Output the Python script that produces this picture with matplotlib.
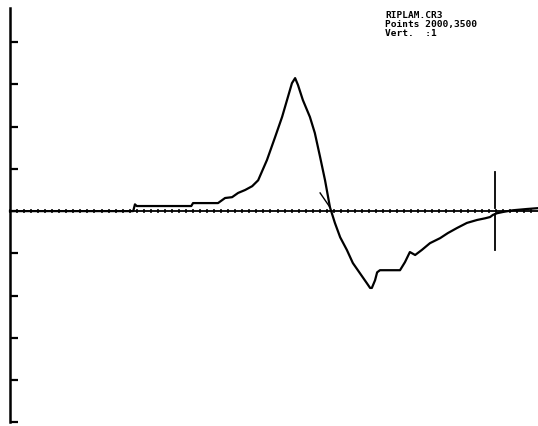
import numpy as np
import matplotlib
matplotlib.use('Agg')
import matplotlib.pyplot as plt

# отсчёты (точки) и амплитуда в делениях шкалы
pts = [2000, 2350, 2355, 2360, 2515, 2520, 2591, 2611, 2631, 2648, 2668, 2688, 2705,
       2730, 2753, 2773, 2787, 2801, 2810, 2818, 2832, 2852, 2866, 2881, 2895, 2909,
       2923, 2938, 2957, 2974, 2994, 3014, 3023, 3028, 3037, 3043, 3051, 3065, 3088,
       3108, 3122, 3136, 3151, 3170, 3193, 3222, 3244, 3270, 3298, 3327, 3350, 3364,
       3372, 3384, 3401, 3429, 3469, 3500]
amp = [0.0, 0.0, 0.16, 0.12, 0.12, 0.19, 0.19, 0.31, 0.33, 0.43, 0.50, 0.59, 0.73,
       1.21, 1.75, 2.23, 2.63, 3.03, 3.15, 2.99, 2.63, 2.23, 1.85, 1.28, 0.73, 0.09,
       -0.28, -0.62, -0.92, -1.23, -1.47, -1.71, -1.82, -1.82, -1.64, -1.45, -1.40,
       -1.40, -1.40, -1.40, -1.21, -0.97, -1.04, -0.92, -0.76, -0.64, -0.52, -0.40,
       -0.28, -0.21, -0.17, -0.14, -0.09, -0.05, -0.02, 0.02, 0.05, 0.07]

# курсоры
cursor_x = 3378
cursor_y = (-0.92, 0.92)
slash_x = [2881, 2909]
slash_y = [0.43, 0.09]

yticks = [-5, -4, -3, -2, -1, 0, 1, 2, 3, 4]
info = "RIPLAM.CR3\nPoints 2000,3500\nVert.  :1"

fig = plt.figure(figsize=(5.38, 4.26), dpi=100)
ax = fig.add_axes([0, 0, 1, 1])
ax.set_xlim(1971.6, 3500)
ax.set_ylim(-5.09, 5.0)

for s in ('top', 'right', 'bottom'):
    ax.spines[s].set_visible(False)
ax.spines['left'].set_position(('data', 2000))
ax.spines['left'].set_bounds(-5, 4.8)
ax.spines['left'].set_linewidth(1.8)
ax.set_yticks(yticks)
ax.set_xticks([])
ax.tick_params(axis='y', direction='in', length=6, width=1.6, labelleft=False)

# нулевая линия с мелкими засечками
ax.plot([2000, 3500], [0, 0], color='black', lw=1.3)
marks = np.arange(2000, 3500, 20)
ax.plot(marks, np.zeros_like(marks), ls='none', marker='|', ms=3, mew=1.1, color='black')

ax.plot(pts, amp, color='black', lw=1.6)
ax.plot(slash_x, slash_y, color='black', lw=1.0)
ax.plot([cursor_x, cursor_x], [cursor_y[0], -0.08], color='black', lw=1.3)
ax.plot([cursor_x, cursor_x], [0.08, cursor_y[1]], color='black', lw=1.3)

fig.text(0.716, 0.975, info, ha='left', va='top', family='DejaVu Sans Mono',
         fontsize=6.8, fontweight='bold', linespacing=1.05)

fig.savefig('out.png', dpi=100)
